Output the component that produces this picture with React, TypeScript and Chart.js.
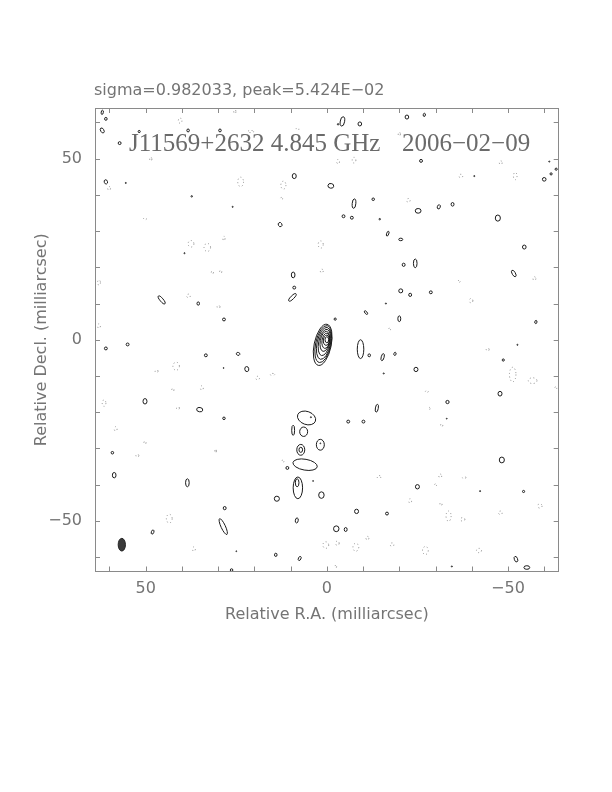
import { useEffect, useRef } from "react";
import { Chart, registerables } from "chart.js";

Chart.register(...registerables);

// [x (mas), y (mas), semi-axis x (mas), semi-axis y (mas), rotation (deg, clockwise)]
type Blob = [number, number, number, number, number];

const headerText = "sigma=0.982033, peak=5.424E\u221202";
const sourceLabel = "J11569+2632 4.845 GHz";
const dateLabel = "2006\u221202\u221209";
const xAxisTitle = "Relative R.A. (milliarcsec)";
const yAxisTitle = "Relative Decl. (milliarcsec)";
const axisLimit = 64;
const tickStep = 10;
const xTickValues = [50, 0, -50];
const yTickValues = [50, 0, -50];

const coreContours: Blob[] = [
  [1.15, -1.4, 2.35, 5.8, 12],
  [1.0, -1.2, 2.1, 5.2, 12],
  [0.85, -1.0, 1.85, 4.5, 12],
  [0.7, -0.75, 1.55, 3.7, 12],
  [0.55, -0.45, 1.27, 2.8, 10],
  [0.3, -0.3, 1.05, 2.1, 8],
  [0.14, -0.14, 0.83, 1.4, 5],
  [0, 0, 0.5, 0.83, 0],
];

const positiveContours: Blob[] = [
  // upper half
  [62, 62.8, 0.3, 0.6, 10],
  [61, 61, 0.35, 0.4, 0],
  [62, 57.8, 0.45, 0.75, -30],
  [57.2, 54.3, 0.4, 0.4, 0],
  [51.8, 57.5, 0.3, 0.3, 0],
  [38.3, 57.8, 0.35, 0.4, 0],
  [29.5, 57.8, 0.35, 0.4, 0],
  [61.0, 43.6, 0.45, 0.6, -20],
  [55.5, 43.3, 0.15, 0.15, 0],
  [9.0, 45.2, 0.55, 0.7, 0],
  [-1.1, 42.5, 0.8, 0.65, 10],
  [37.3, 39.6, 0.2, 0.2, 0],
  [26, 36.7, 0.15, 0.15, 0],
  [12.9, 31.8, 0.5, 0.6, -30],
  [9.3, 17.9, 0.5, 0.8, 0],
  [9.0, 14.4, 0.4, 0.4, 0],
  [9.5, 11.7, 0.45, 1.4, 45],
  [45.6, 11.0, 0.45, 1.4, -40],
  [35.5, 10.0, 0.35, 0.45, 0],
  [28.4, 5.6, 0.4, 0.4, 0],
  [39.3, 23.9, 0.15, 0.15, 0],
  [-4.3, 60.3, 0.6, 1.3, 10],
  [-3.1, 59.5, 0.2, 0.2, 0],
  [-9.1, 59.6, 0.5, 0.55, 0],
  [-22.1, 61.5, 0.5, 0.55, 0],
  [-26.9, 62.1, 0.3, 0.45, 10],
  [-26.0, 49.4, 0.4, 0.4, 0],
  [-40.7, 45.2, 0.15, 0.15, 0],
  [-61.4, 49.2, 0.15, 0.15, 0],
  [-60.0, 44.3, 0.5, 0.5, 0],
  [-61.9, 45.8, 0.3, 0.3, 0],
  [-63.3, 47.1, 0.3, 0.3, 0],
  [-7.5, 37.6, 0.5, 1.3, 5],
  [-12.8, 38.8, 0.35, 0.35, 0],
  [-4.6, 34.1, 0.4, 0.4, 0],
  [-6.9, 33.7, 0.4, 0.4, 0],
  [-14.6, 33.3, 0.2, 0.2, 0],
  [-25.2, 35.6, 0.8, 0.65, 0],
  [-30.9, 36.7, 0.4, 0.6, 20],
  [-34.7, 37.4, 0.4, 0.5, 0],
  [-47.2, 33.6, 0.7, 0.85, 0],
  [-16.8, 29.3, 0.3, 0.7, 20],
  [-20.4, 27.7, 0.55, 0.35, 0],
  [-54.5, 25.6, 0.5, 0.55, 0],
  [-51.6, 18.3, 0.45, 1.0, -30],
  [-21.2, 20.7, 0.4, 0.45, 0],
  [-24.4, 21.1, 0.5, 1.2, 0],
  [-20.4, 13.5, 0.55, 0.55, 0],
  [-23.0, 12.4, 0.4, 0.45, 0],
  [-28.7, 13.1, 0.4, 0.4, 0],
  [-16.3, 10.0, 0.15, 0.15, 0],
  [-10.8, 7.5, 0.3, 0.6, -40],
  [-2.3, 5.7, 0.3, 0.3, 0],
  [-20.0, 5.8, 0.4, 0.8, 0],
  [-57.7, 4.9, 0.3, 0.45, 10],
  // lower half, left
  [61, -2.4, 0.4, 0.4, 0],
  [55, -1.3, 0.4, 0.4, 0],
  [33.4, -4.3, 0.4, 0.4, 0],
  [24.5, -3.9, 0.5, 0.4, 20],
  [22.1, -8.1, 0.55, 0.7, -10],
  [28.5, -7.8, 0.12, 0.12, 0],
  [50.2, -17.0, 0.55, 0.75, 0],
  [35.1, -19.3, 0.85, 0.6, 10],
  [28.4, -21.7, 0.35, 0.35, 0],
  [59.2, -31.2, 0.35, 0.35, 0],
  [58.7, -37.4, 0.5, 0.75, 0],
  [38.5, -39.5, 0.5, 1.1, 0],
  [10.9, -35.4, 0.4, 0.4, 0],
  // lower half, right
  [-9.3, -2.6, 0.9, 2.6, 0],
  [-11.7, -4.3, 0.35, 0.4, 0],
  [-15.4, -4.8, 0.4, 1.0, 15],
  [-18.8, -3.9, 0.3, 0.45, 15],
  [-24.6, -8.2, 0.55, 0.6, 0],
  [-15.7, -9.3, 0.15, 0.15, 0],
  [-47.8, -14.9, 0.55, 0.65, 0],
  [-33.3, -17.2, 0.45, 0.45, 0],
  [-13.8, -18.9, 0.4, 1.1, 10],
  [-5.9, -22.6, 0.4, 0.4, 0],
  [-10.1, -22.6, 0.4, 0.4, 0],
  [-48.3, -33.2, 0.7, 0.8, 0],
  [-25.0, -40.6, 0.55, 0.6, 0],
  [-52.6, -1.4, 0.15, 0.15, 0],
  [-48.7, -5.6, 0.3, 0.3, 0],
  [-33.1, -21.8, 0.12, 0.12, 0],
  // jet
  [5.6, -21.6, 2.6, 1.8, 20],
  [4.4, -21.4, 0.15, 0.15, 0],
  [9.3, -25.0, 0.4, 1.4, 0],
  [6.4, -25.4, 1.1, 1.3, 0],
  [7.2, -30.4, 1.1, 1.5, 0],
  [7.2, -30.4, 0.5, 0.7, 0],
  [1.8, -29.0, 1.1, 1.5, 0],
  [1.8, -28.6, 0.12, 0.12, 0],
  [6.0, -34.5, 3.4, 1.5, 10],
  [8.0, -40.9, 1.3, 3.0, 0],
  [8.2, -39.5, 0.5, 1.1, 0],
  [3.8, -39.0, 0.12, 0.12, 0],
  [1.5, -42.9, 0.75, 0.9, 0],
  [13.8, -43.9, 0.7, 0.7, 0],
  [-8.2, -47.4, 0.55, 0.6, 0],
  [-16.6, -48.0, 0.4, 0.4, 0],
  [8.3, -49.9, 0.4, 0.7, 10],
  [-2.6, -52.2, 0.75, 0.8, 0],
  [-5.2, -52.4, 0.4, 0.55, 0],
  // bottom strip
  [-42.3, -41.8, 0.15, 0.15, 0],
  [-54.3, -41.9, 0.3, 0.3, 0],
  [28.2, -46.5, 0.4, 0.45, 0],
  [48.1, -53.1, 0.35, 0.6, 20],
  [28.6, -51.6, 0.6, 2.4, -25],
  [14.1, -59.4, 0.35, 0.45, 0],
  [7.5, -60.4, 0.35, 0.6, 25],
  [26.3, -63.6, 0.35, 0.35, 0],
  [-52.2, -60.6, 0.45, 0.8, -20],
  [-55.2, -62.9, 0.8, 0.5, 0],
  [-34.5, -62.6, 0.15, 0.15, 0],
  [25, -58.4, 0.12, 0.12, 0],
];

const negativeContours: Blob[] = [
  [40.5, 60.5, 0.5, 0.7, 0],
  [25.4, 63.0, 0.3, 0.5, 0],
  [21.0, 57.5, 0.8, 0.3, 0],
  [8.1, 58.2, 0.4, 0.3, 0],
  [48.6, 49.9, 0.3, 0.5, 0],
  [60.1, 41.8, 0.4, 0.5, 0],
  [23.8, 43.6, 0.8, 1.3, 0],
  [12.0, 42.7, 0.7, 1.1, 0],
  [12.5, 39.0, 0.3, 0.3, 0],
  [50.2, 33.4, 0.4, 0.3, 0],
  [37.5, 26.5, 0.8, 0.9, 0],
  [33.0, 25.5, 0.9, 1.1, 0],
  [28.4, 28.0, 0.3, 0.6, 0],
  [29.3, 18.8, 0.3, 0.4, 0],
  [31.6, 18.6, 0.3, 0.4, 0],
  [1.7, 26.3, 0.7, 1.0, 0],
  [1.4, 19.0, 0.4, 0.5, 0],
  [62.9, 15.8, 0.4, 0.7, 0],
  [38.2, 12.1, 0.5, 0.5, 0],
  [29.9, 9.1, 0.4, 0.4, 0],
  [62.9, 3.8, 0.4, 0.6, 0],
  [-3.1, 49.2, 0.4, 0.6, 0],
  [-7.5, 49.6, 0.5, 0.8, 0],
  [-20.0, 56.8, 0.3, 0.5, 0],
  [-48.0, 48.9, 0.4, 0.5, 0],
  [-37.0, 45.2, 0.5, 0.5, 0],
  [-52.0, 45.2, 0.5, 1.0, 0],
  [-22.5, 38.5, 0.5, 0.5, 0],
  [-57.3, 16.9, 0.4, 0.5, 0],
  [-36.5, 16.1, 0.3, 0.3, 0],
  [-39.8, 10.8, 0.5, 0.6, 0],
  [-17.3, 2.9, 0.3, 0.3, 0],
  [47.0, -8.7, 0.4, 0.4, 0],
  [41.6, -7.3, 0.9, 1.1, 0],
  [19.1, -10.6, 0.5, 0.5, 0],
  [15.0, -9.6, 0.6, 0.3, 0],
  [42.5, -13.8, 0.3, 0.4, 0],
  [34.5, -13.3, 0.4, 0.6, 0],
  [61.5, -17.5, 0.5, 0.9, 0],
  [41.1, -18.9, 0.4, 0.4, 0],
  [58.3, -24.6, 0.4, 0.6, 0],
  [50.2, -28.4, 0.3, 0.4, 0],
  [52.3, -32.0, 0.4, 0.4, 0],
  [30.7, -30.7, 0.2, 0.5, 0],
  [12.1, -33.5, 0.3, 0.3, 0],
  [-44.4, -2.7, 0.4, 0.4, 0],
  [-51.3, -9.6, 0.9, 2.0, 0],
  [-56.8, -11.3, 1.2, 0.8, 0],
  [-27.6, -14.3, 0.4, 0.3, 0],
  [-28.3, -19.0, 0.2, 0.3, 0],
  [-31.7, -23.6, 0.3, 0.4, 0],
  [-14.4, -37.9, 0.5, 0.4, 0],
  [-31.3, -37.6, 0.4, 0.5, 0],
  [-37.9, -38.1, 0.5, 0.3, 0],
  [43.5, -49.4, 0.8, 1.2, 0],
  [36.7, -57.8, 0.4, 0.6, 0],
  [0.3, -56.7, 0.8, 0.9, 0],
  [-2.9, -56.2, 0.5, 0.6, 0],
  [-8.0, -57.3, 0.8, 1.1, 0],
  [-11.2, -54.8, 0.4, 0.5, 0],
  [-18.0, -56.6, 0.5, 0.5, 0],
  [-23.0, -44.5, 0.4, 0.6, 0],
  [-27.2, -58.2, 0.8, 1.1, 0],
  [-31.5, -45.4, 0.3, 0.4, 0],
  [-33.6, -48.7, 0.7, 1.4, 0],
  [-37.5, -49.6, 0.6, 0.5, 0],
  [-42.0, -58.2, 0.7, 0.6, 0],
  [-47.9, -47.8, 0.5, 0.5, 0],
  [-58.8, -45.9, 0.6, 0.6, 0],
  [-2.5, -62.6, 0.2, 0.4, 0],
  [-30.0, -40.1, 0.3, 0.3, 0],
  [-63.2, -13.3, 0.3, 0.3, 0],
];

const beamEllipse: Blob[] = [[56.6, -56.6, 1.0, 1.75, 0]];

const toPoints = (blobs: Blob[]) =>
  blobs.map(([x, y, rx, ry, rot]) => ({ x, y, rx, ry, rot }));

const fmtTick = (v: number) => (v < 0 ? "\u2212" + Math.abs(v) : String(v));

const FRAME = "#8a8a8a";
const TEXT = "#747474";

const contourPlugin = {
  id: "contourPlugin",
  afterDatasetsDraw(chart: any) {
    const { ctx, chartArea, scales } = chart;
    const xs = scales.x;
    const ys = scales.y;
    const kx = Math.abs(xs.getPixelForValue(1) - xs.getPixelForValue(0));
    const ky = Math.abs(ys.getPixelForValue(1) - ys.getPixelForValue(0));
    ctx.save();
    ctx.beginPath();
    ctx.rect(chartArea.left, chartArea.top, chartArea.right - chartArea.left, chartArea.bottom - chartArea.top);
    ctx.clip();
    chart.data.datasets.forEach((ds: any, i: number) => {
      const meta = chart.getDatasetMeta(i);
      meta.data.forEach((el: any, j: number) => {
        const d = ds.data[j];
        ctx.beginPath();
        ctx.ellipse(el.x, el.y, Math.max(d.rx * kx, 0.4), Math.max(d.ry * ky, 0.4), (d.rot * Math.PI) / 180, 0, Math.PI * 2);
        if (ds.contourStyle === "dotted") {
          ctx.setLineDash([1, 2.5]);
          ctx.strokeStyle = "#8c8c8c";
          ctx.lineWidth = 1;
          ctx.stroke();
        } else if (ds.contourStyle === "filled") {
          ctx.setLineDash([]);
          ctx.fillStyle = "#3a3a3a";
          ctx.fill();
          ctx.strokeStyle = "#222";
          ctx.lineWidth = 1;
          ctx.stroke();
        } else {
          ctx.setLineDash([]);
          ctx.strokeStyle = "#1a1a1a";
          ctx.lineWidth = 1;
          ctx.stroke();
        }
      });
    });
    ctx.restore();
  },
  afterDraw(chart: any) {
    const { ctx, chartArea, scales } = chart;
    const { left, right, top, bottom } = chartArea;
    const xs = scales.x;
    const ys = scales.y;
    ctx.save();
    ctx.strokeStyle = FRAME;
    ctx.lineWidth = 1;
    ctx.setLineDash([]);
    ctx.strokeRect(Math.round(left) + 0.5, Math.round(top) + 0.5, Math.round(right - left) - 1, Math.round(bottom - top) - 1);
    const tl = 5;
    ctx.beginPath();
    xs.ticks.forEach((t: any) => {
      const px = Math.round(xs.getPixelForValue(t.value)) + 0.5;
      ctx.moveTo(px, bottom);
      ctx.lineTo(px, bottom - tl);
      ctx.moveTo(px, top);
      ctx.lineTo(px, top + tl);
    });
    ys.ticks.forEach((t: any) => {
      const py = Math.round(ys.getPixelForValue(t.value)) + 0.5;
      ctx.moveTo(left, py);
      ctx.lineTo(left + tl, py);
      ctx.moveTo(right, py);
      ctx.lineTo(right - tl, py);
    });
    ctx.stroke();

    ctx.fillStyle = TEXT;
    ctx.textBaseline = "alphabetic";
    ctx.textAlign = "left";
    ctx.font = '16px "DejaVu Sans"';
    ctx.fillText(headerText, left - 1, top - 13);

    ctx.fillStyle = "#6a6a6a";
    ctx.font = '25px "Liberation Serif"';
    ctx.fillText(sourceLabel, left + 34, top + 43);
    ctx.fillText(dateLabel, left + 307, top + 43);
    ctx.restore();
  },
};

export default function App() {
  const canvasRef = useRef<HTMLCanvasElement | null>(null);

  useEffect(() => {
    if (!canvasRef.current) return;
    const chart = new Chart(canvasRef.current, {
      type: "scatter",
      data: {
        datasets: [
          { label: "negative", data: toPoints(negativeContours), pointRadius: 0, contourStyle: "dotted" } as any,
          { label: "positive", data: toPoints(positiveContours), pointRadius: 0, contourStyle: "solid" } as any,
          { label: "core", data: toPoints(coreContours), pointRadius: 0, contourStyle: "solid" } as any,
          { label: "beam", data: toPoints(beamEllipse), pointRadius: 0, contourStyle: "filled" } as any,
        ],
      },
      options: {
        animation: false,
        responsive: false,
        events: [],
        layout: { padding: { top: 108, right: 53.3, left: 0, bottom: 0 } },
        plugins: { legend: { display: false }, tooltip: { enabled: false }, title: { display: false } },
        scales: {
          x: {
            type: "linear",
            position: "bottom",
            min: -axisLimit,
            max: axisLimit,
            reverse: true,
            grid: { display: false, drawTicks: false },
            border: { display: false },
            ticks: {
              stepSize: tickStep,
              includeBounds: false,
              autoSkip: false,
              maxRotation: 0,
              padding: 8,
              color: TEXT,
              font: { family: "DejaVu Sans", size: 16 },
              callback: (v: any) => (xTickValues.includes(Number(v)) ? fmtTick(Number(v)) : ""),
            },
            title: {
              display: true,
              text: xAxisTitle,
              color: TEXT,
              font: { family: "DejaVu Sans", size: 16 },
              padding: { top: 0, bottom: 167.4 },
            },
            afterFit: (scale: any) => {
              scale.height = 220.5;
            },
          },
          y: {
            type: "linear",
            position: "left",
            min: -axisLimit,
            max: axisLimit,
            grid: { display: false, drawTicks: false },
            border: { display: false },
            ticks: {
              stepSize: tickStep,
              includeBounds: false,
              autoSkip: false,
              padding: 13,
              color: TEXT,
              font: { family: "DejaVu Sans", size: 16 },
              callback: (v: any) => (yTickValues.includes(Number(v)) ? fmtTick(Number(v)) : ""),
            },
            title: {
              display: true,
              text: yAxisTitle,
              color: TEXT,
              font: { family: "DejaVu Sans", size: 16 },
              padding: { top: 32.4, bottom: 0 },
            },
            afterFit: (scale: any) => {
              scale.width = 95;
            },
          },
        },
      },
      plugins: [contourPlugin],
    } as any);
    return () => chart.destroy();
  }, []);

  return (
    <div style={{ position: "absolute", left: 0, top: 0, width: 612, height: 792, background: "#fff" }}>
      <canvas ref={canvasRef} width={612} height={792} />
    </div>
  );
}
